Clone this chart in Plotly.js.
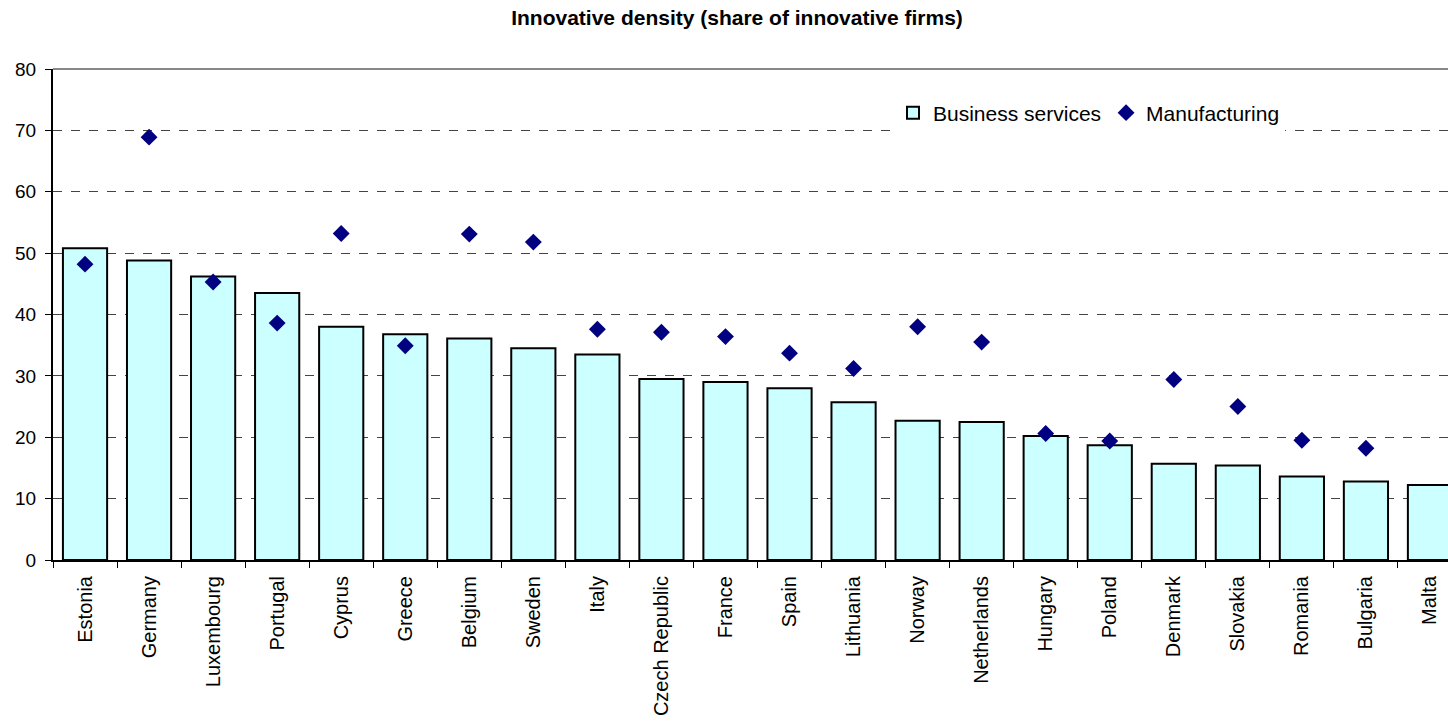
<!DOCTYPE html>
<html>
<head>
<meta charset="utf-8">
<script src="https://cdn.plot.ly/plotly-3.0.1.min.js"></script>
<style>
html,body{margin:0;padding:0;overflow:hidden;background:#fff;}
#chart{width:1474px;height:723px;}
</style>
</head>
<body>
<div id="chart"></div>
<script>
const countries = ["Estonia","Germany","Luxembourg","Portugal","Cyprus","Greece","Belgium","Sweden","Italy","Czech Republic","France","Spain","Lithuania","Norway","Netherlands","Hungary","Poland","Denmark","Slovakia","Romania","Bulgaria","Malta"];
const businessServices = [50.8,48.8,46.2,43.5,38.0,36.8,36.1,34.5,33.5,29.5,29.0,28.0,25.7,22.7,22.5,20.2,18.7,15.7,15.4,13.6,12.8,12.2];
const manufacturing = [48.2,68.9,45.3,38.6,53.2,34.9,53.1,51.8,37.6,37.1,36.4,33.7,31.2,38.0,35.5,20.6,19.4,29.4,25.0,19.5,18.2,null];
const yTicks = [0,10,20,30,40,50,60,70,80];

const traces = [
  {
    type: 'bar', name: 'Business services', x: countries, y: businessServices,
    marker: {color: '#CCFFFF', line: {color: '#000000', width: 2}}
  },
  {
    type: 'scatter', mode: 'markers', name: 'Manufacturing', x: countries, y: manufacturing,
    marker: {symbol: 'diamond', color: '#000080', size: 13}
  }
];

const layout = {
  width: 1474, height: 723,
  margin: {l: 53, r: 12, t: 69, b: 163},
  paper_bgcolor: '#ffffff', plot_bgcolor: '#ffffff',
  font: {family: 'Liberation Sans, Arial, sans-serif', color: '#000', size: 18},
  title: {text: '<b>Innovative density (share of innovative firms)</b>', x: 0.5, xref: 'container', xanchor: 'center', y: 0.975, yanchor: 'middle', font: {size: 21, color: '#000'}},
  bargap: 0.31,
  showlegend: true,
  legend: {orientation: 'h', x: (893 - 53) / 1409, y: (560 - 113) / 491, xanchor: 'left', yanchor: 'middle', bgcolor: '#ffffff', font: {size: 21}, itemwidth: 30, traceorder: 'normal'},
  xaxis: {
    type: 'category', range: [-0.5, 21.5], showline: true, linecolor: '#000', linewidth: 2,
    ticks: 'outside', ticklen: 6, tickcolor: '#000', tickson: 'boundaries',
    tickangle: -90, tickfont: {size: 20}, ticklabelstandoff: 6, showgrid: false, fixedrange: true
  },
  yaxis: {
    range: [0, 80], tickvals: yTicks, ticktext: yTicks.map(String),
    showline: true, linecolor: '#000', linewidth: 2,
    ticks: 'outside', ticklen: 6, tickcolor: '#000', tickfont: {size: 19}, ticklabelstandoff: 5,
    showgrid: true, gridcolor: '#444', griddash: 'dash', gridwidth: 1,
    zeroline: false, fixedrange: true
  },
  shapes: [
    {type: 'line', xref: 'paper', yref: 'paper', x0: 0, x1: 1, y0: 1, y1: 1, line: {color: '#888', width: 2}}
  ]
};

Plotly.newPlot('chart', traces, layout, {displayModeBar: false, staticPlot: true});
</script>
</body>
</html>
